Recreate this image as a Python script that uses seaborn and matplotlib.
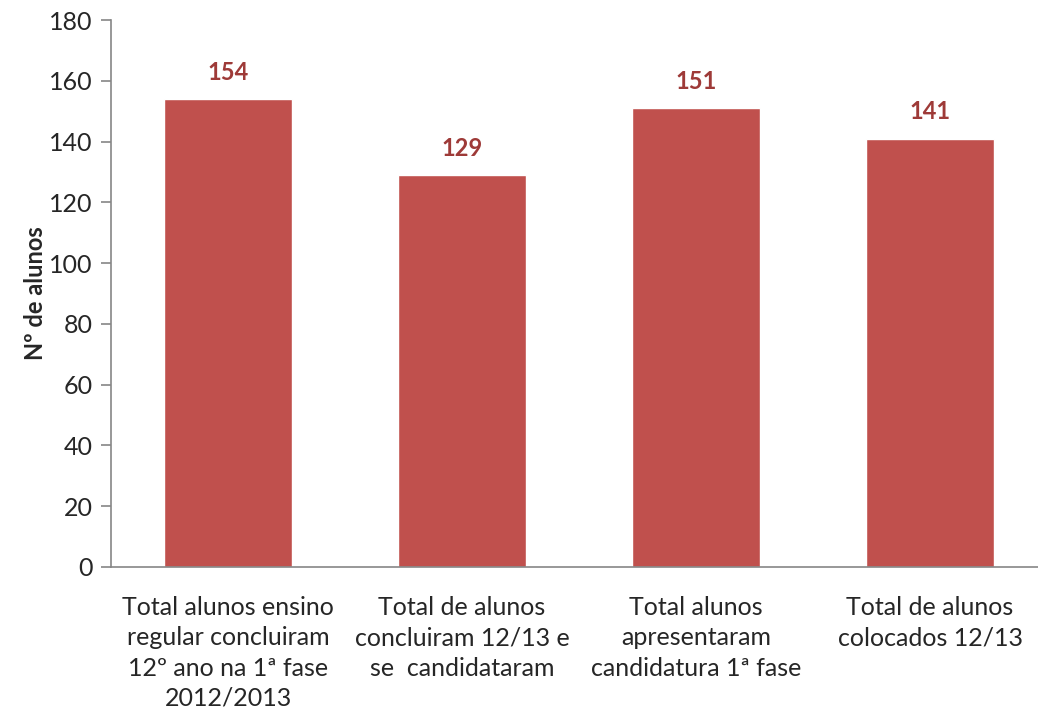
import matplotlib

matplotlib.use("Agg")
import matplotlib.pyplot as plt
import numpy as np
import pandas as pd
import seaborn as sns

categories = [
    "Total alunos ensino\nregular concluiram\n12º ano na 1ª fase\n2012/2013",
    "Total de alunos\nconcluiram 12/13 e\nse  candidataram",
    "Total alunos\napresentaram\ncandidatura 1ª fase",
    "Total de alunos\ncolocados 12/13",
]
values = [154, 129, 151, 141]
y_ticks = [0, 20, 40, 60, 80, 100, 120, 140, 160, 180]

BAR_COLOR = "#C0504D"
LABEL_COLOR = "#9E3A38"
AXIS_COLOR = "#868686"

sns.set_style("white")
plt.rcParams["font.family"] = ["Lato", "DejaVu Sans"]

df = pd.DataFrame({"categoria": categories, "alunos": values})

fig = plt.figure(figsize=(10.38, 7.08), dpi=100)
# axes spans pixel x 111..1047, y 20..567
ax = fig.add_axes([111 / 1038, (708 - 567) / 708, 936 / 1038, 547 / 708])

sns.barplot(data=df, x="categoria", y="alunos", color=BAR_COLOR,
            saturation=1, width=0.55, ax=ax)

# value labels above bars
for i, v in enumerate(values):
    ax.text(i, v + 5, str(v), ha="center", va="bottom", fontsize=17,
            fontweight="bold", color=LABEL_COLOR)

ax.set_xlim(-0.5, len(categories) - 0.5)
ax.set_ylim(0, 180)
ax.set_yticks(y_ticks)
ax.set_yticklabels([str(t) for t in y_ticks], fontsize=18)

# category labels centred on bars, tick marks between categories
ax.set_xticks(range(len(categories)))
ax.set_xticklabels(categories, fontsize=18, linespacing=1.38)
ax.tick_params(axis="x", which="major", length=0, pad=21)
ax.set_xticks(np.arange(-0.5, len(categories) + 0.5, 1), minor=True)
ax.tick_params(axis="x", which="minor", length=7, color=AXIS_COLOR, width=1.2)
ax.tick_params(axis="y", length=7, color=AXIS_COLOR, width=1.2, pad=6, left=True)

ax.set_xlabel("")
ax.set_ylabel("Nº de alunos", fontsize=17, fontweight="bold", labelpad=2)

for side in ["top", "right"]:
    ax.spines[side].set_visible(False)
for side in ["left", "bottom"]:
    ax.spines[side].set_color(AXIS_COLOR)
    ax.spines[side].set_linewidth(1.2)

fig.savefig("out.png", dpi=100)
plt.close()
